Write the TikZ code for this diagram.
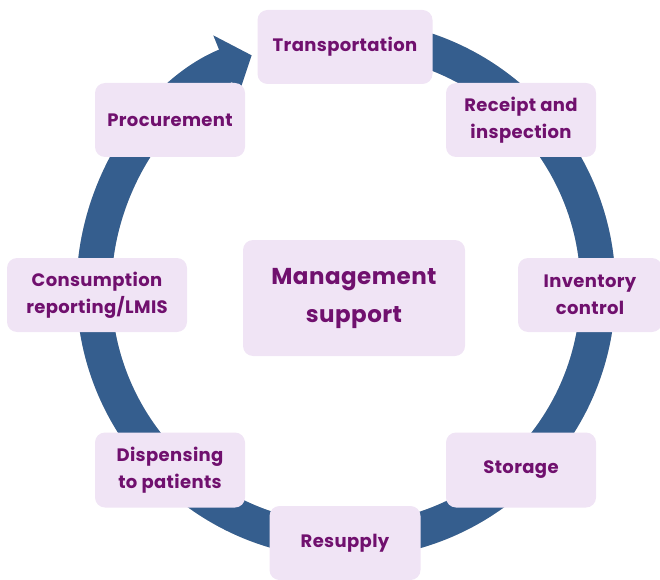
\documentclass[tikz,border=0pt]{standalone}
\usepackage{fontspec}
\setmainfont{Poppins}[LetterSpace=2]
\usepackage{tikz}
\usetikzlibrary{calc}
\usetikzlibrary{arrows.meta}

\definecolor{ringblue}{RGB}{53,94,142}
\definecolor{stagefill}{RGB}{240,228,245}
\definecolor{stagetext}{RGB}{112,16,110}

\tikzset{
	stage/.style={fill=stagefill, rounded corners=10pt, minimum width=150pt, minimum height=74pt,
		align=center, text=stagetext, font=\bfseries\fontsize{18}{27}\selectfont, inner sep=0pt},
	ring/.style={line width=35pt, ringblue, -{Triangle[length=28pt,width=64pt]}},
}

\begin{document}
\begin{tikzpicture}[x=1pt, y=1pt]
			\useasboundingbox (0,0) rectangle (660,579);
			\coordinate (c) at (346,290);

			\draw[ring, black!18, shift={(3,-4)}] ($(c)+(85:252)$) arc[start angle=85, end angle=-248, radius=252]; %shadow
			\draw[ring] ($(c)+(85:252)$) arc[start angle=85, end angle=-248, radius=252];

			\node[stage, minimum width=175pt] (transport) at (345,532) {Transportation};
			\node[stage] (procure) at (170,459) {Procurement};
			\node[stage] (receipt) at (521,459) {Receipt and\\inspection};
			\node[stage, minimum width=180pt] (consume) at (97,284) {Consumption\\reporting/LMIS};
			\node[stage, minimum width=144pt] (inventory) at (590,284) {Inventory\\control};
			\node[stage, minimum width=222pt, minimum height=116pt, font=\bfseries\fontsize{23}{38}\selectfont] (mgmt) at (354,281) {Management\\support};
			\node[stage, minimum height=75pt] (dispense) at (170,109) {Dispensing\\to patients};
			\node[stage, minimum height=75pt] (storage) at (521,109) {Storage};
			\node[stage, minimum width=151pt] (resupply) at (345,36) {Resupply};
        \end{tikzpicture}
\end{document}
